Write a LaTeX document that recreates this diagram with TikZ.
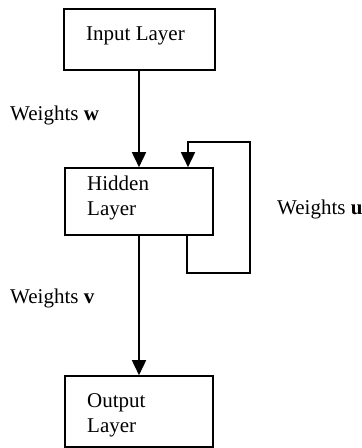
\documentclass[tikz,border=0pt]{standalone}
\usepackage{fontspec}
\setmainfont{Liberation Serif}
\usetikzlibrary{arrows.meta}
\begin{document}
\begin{tikzpicture}[x=1pt,y=-1pt,
  box/.style={draw, line width=1.6pt, inner sep=0pt},
  lbl/.style={inner sep=0pt, font=\fontsize{21}{25}\selectfont},
  conn/.style={line width=1.6pt, -{Triangle[length=15pt,width=14pt]}},
  wire/.style={line width=1.6pt}]
\useasboundingbox (0,0) rectangle (362,448);
% boxes
\node[box, minimum width=151pt, minimum height=61pt] (in) at (139.5,39.5) {};
\node[box, minimum width=148pt, minimum height=67pt] (hid) at (139,201.5) {};
\node[box, minimum width=148pt, minimum height=71pt] (out) at (139,411.5) {};
% box texts
\node[lbl, anchor=base west] (inT) at (86,40) {Input Layer};
\node[lbl, anchor=base west] (hidT1) at (87,190) {Hidden};
\node[lbl, anchor=base west] (hidT2) at (87,215) {Layer};
\node[lbl, anchor=base west] (outT1) at (87,407) {Output};
\node[lbl, anchor=base west] (outT2) at (87,432) {Layer};
% weight labels
\node[lbl, anchor=base west] (ww) at (10,120) {Weights \textbf{w}};
\node[lbl, anchor=base west] (wu) at (277,214) {Weights \textbf{u}};
\node[lbl, anchor=base west] (wv) at (10,303) {Weights \textbf{v}};
% connectors
\draw[conn] (hid.north |- in.south) -- (hid.north);
\draw[conn] (hid.south) -- (out.north);
\coordinate (l1) at (187,273);
\coordinate (l2) at (250,273);
\coordinate (l3) at (250,142);
\coordinate (l4) at (188,142);
\draw[conn] (hid.south -| l1) -- (l1) -- (l2) -- (l3) -- (l4) -- (l4 |- hid.north);
\end{tikzpicture}
\end{document}
